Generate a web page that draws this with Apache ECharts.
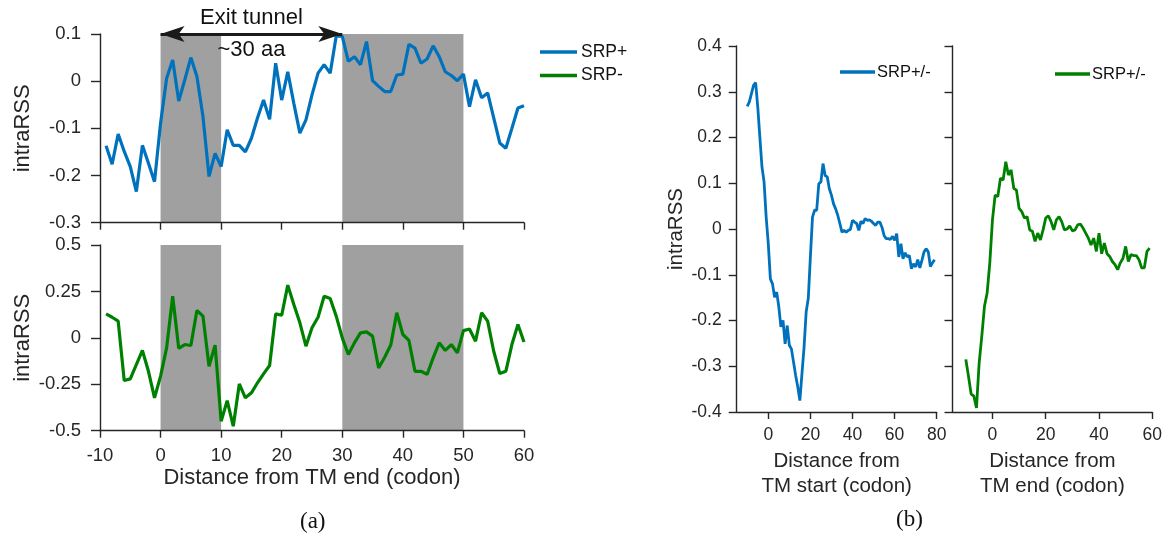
<!DOCTYPE html>
<html>
<head>
<meta charset="utf-8">
<script src="https://cdn.jsdelivr.net/npm/echarts@6/dist/echarts.min.js"></script>
<style>
html,body{margin:0;padding:0;background:#fff;}
#chart{width:1167px;height:540px;}
</style>
</head>
<body>
<div id="chart"></div>
<script>
// ---------- DATA ----------
// Panel (a): codon positions relative to TM end
const codonsA = [-9,-8,-7,-6,-5,-4,-3,-2,-1,0,1,2,3,4,5,6,7,8,9,10,11,12,13,14,15,16,17,18,19,20,21,22,23,24,25,26,27,28,29,30,31,32,33,34,35,36,37,38,39,40,41,42,43,44,45,46,47,48,49,50,51,52,53,54,55,56,57,58,59,60];
const srpPlus = [-0.137,-0.176,-0.112,-0.149,-0.181,-0.234,-0.136,-0.174,-0.213,-0.089,
  0.006,0.045,-0.042,0.003,0.050,0.010,-0.075,-0.202,-0.153,-0.181,
  -0.103,-0.136,-0.136,-0.150,-0.121,-0.078,-0.040,-0.081,0.038,-0.040,
  0.020,-0.047,-0.110,-0.082,-0.029,0.017,0.035,0.017,0.096,0.095,
  0.042,0.052,0.035,0.084,0.001,-0.011,-0.022,-0.022,0.013,0.015,
  0.078,0.070,0.038,0.047,0.075,0.052,0.020,0.012,0.001,0.015,
  -0.054,0.003,-0.035,-0.025,-0.078,-0.131,-0.142,-0.100,-0.057,-0.052];
const srpMinus = [0.129,0.111,0.090,-0.230,-0.221,-0.144,-0.068,-0.180,-0.323,-0.206,
  -0.054,0.224,-0.057,-0.036,-0.041,0.147,0.117,-0.153,-0.039,-0.449,
  -0.338,-0.476,-0.248,-0.323,-0.296,-0.242,-0.194,-0.149,0.129,0.122,
  0.284,0.180,0.081,-0.045,0.054,0.111,0.224,0.212,0.117,0.000,
  -0.090,-0.027,0.027,0.032,0.009,-0.162,-0.104,-0.039,0.135,0.018,
  -0.014,-0.180,-0.180,-0.197,-0.108,-0.027,-0.068,-0.036,-0.081,0.039,
  0.048,-0.018,0.135,0.090,-0.072,-0.192,-0.180,-0.036,0.072,-0.022];
// shaded regions (codon ranges)
const shadedBands = [[0,10],[30,50]];
// exit tunnel arrow span (codon) and height
const tunnelSpan = [0,30];
const tunnelLevel = 0.1;

// Panel (b) left: distance from TM start
const codonsStart = [-10,-9,-8,-7,-6,-5,-4,-3,-2,-1,0,1,2,3,4,5,6,7,8,9,10,11,12,13,14,15,16,17,18,19,20,21,22,23,24,25,26,27,28,29,30,31,32,33,34,35,36,37,38,39,40,41,42,43,44,45,46,47,48,49,50,51,52,53,54,55,56,57,58,59,60,61,62,63,64,65,66,67,68,69,70,71,72,73,74,75,76,77,78,79];
const srpStart = [0.268,0.278,0.296,0.314,0.320,0.267,0.201,0.136,0.103,0.026,
  -0.032,-0.109,-0.120,-0.149,-0.138,-0.170,-0.214,-0.200,-0.251,-0.211,
  -0.254,-0.262,-0.291,-0.320,-0.345,-0.375,-0.316,-0.258,-0.181,-0.152,
  -0.061,0.026,0.041,0.041,0.099,0.103,0.143,0.117,0.114,0.088,
  0.074,0.055,0.044,0.030,0.012,-0.007,-0.003,-0.007,-0.003,-0.001,
  0.019,0.015,0.012,-0.003,0.017,0.012,0.023,0.019,0.020,0.017,
  0.012,0.008,0.015,0.015,0.004,-0.014,-0.021,-0.021,-0.023,-0.016,
  -0.025,-0.010,-0.061,-0.032,-0.065,-0.052,-0.061,-0.058,-0.087,-0.076,
  -0.083,-0.067,-0.085,-0.068,-0.050,-0.043,-0.050,-0.082,-0.074,-0.067];

// Panel (b) right: distance from TM end
const codonsEnd = [-10,-9,-8,-7,-6,-5,-4,-3,-2,-1,0,1,2,3,4,5,6,7,8,9,10,11,12,13,14,15,16,17,18,19,20,21,22,23,24,25,26,27,28,29,30,31,32,33,34,35,36,37,38,39,40,41,42,43,44,45,46,47,48,49,50,51,52,53,54,55,56,57,58,59];
const srpEnd = [-0.285,-0.322,-0.361,-0.365,-0.391,-0.293,-0.234,-0.169,-0.140,-0.074,
  0.020,0.074,0.071,0.111,0.107,0.147,0.118,0.129,0.089,0.085,
  0.045,0.038,0.024,0.027,-0.002,-0.005,-0.027,-0.009,-0.024,-0.002,
  0.024,0.029,0.016,-0.002,0.020,0.027,0.016,-0.002,0.000,0.007,
  -0.004,-0.002,0.009,0.011,0.002,-0.009,-0.020,-0.035,-0.020,-0.049,
  -0.009,-0.054,-0.031,-0.054,-0.060,-0.071,-0.078,-0.089,-0.074,-0.064,
  -0.038,-0.071,-0.056,-0.058,-0.058,-0.067,-0.085,-0.085,-0.049,-0.042];

// tick values
const ticksStart_x = [0,20,40,60,80];
const ticksEnd_x = [0,20,40,60];

// ---------- STYLE ----------
const FONT = "'Liberation Sans', Arial, Helvetica, sans-serif";
const AX = '#262626';
const BLUE = '#0072BD';
const GREEN = '#008000';
const GRAY = '#a0a0a0';

function pairs(xs, ys){ return xs.map((x,i)=>[x, ys[i]]); }

function axisCommon(fs, margin, tickLen, showLabel){
  return {
    axisLine:{show:true, onZero:false, lineStyle:{color:AX, width:1.4}},
    axisTick:{show:true, inside:false, length:tickLen, lineStyle:{color:AX, width:1.4}},
    axisLabel:{show:showLabel, color:AX, fontSize:fs, fontFamily:FONT, margin:margin},
    splitLine:{show:false},
    z:5
  };
}

const bandAreas = shadedBands.map(b => [{xAxis:b[0]},{xAxis:b[1]}]);
const tunnelMid = (tunnelSpan[0] + tunnelSpan[1]) / 2;

const option = {
  animation:false,
  backgroundColor:'#ffffff',
  textStyle:{fontFamily:FONT},
  grid:[
    {left:100, top:34, width:424, height:188.7},
    {left:100, top:245, width:424, height:185.7},
    {left:736.7, top:46, width:200, height:366},
    {left:952.5, top:46, width:199.8, height:366}
  ],
  xAxis:[
    Object.assign(axisCommon(18.5,16,7,false), {type:'value', gridIndex:0, min:-10, max:60, interval:10}),
    Object.assign(axisCommon(18.5,16,7,true), {type:'value', gridIndex:1, min:-10, max:60, interval:10,
      name:'Distance from TM end (codon)', nameLocation:'middle', nameGap:36,
      nameTextStyle:{fontSize:22, color:AX, fontFamily:FONT}}),
    (function(){ const a = axisCommon(17.5,14,7,true);
      a.axisTick.customValues = ticksStart_x; a.axisLabel.customValues = ticksStart_x;
      return Object.assign(a, {type:'value', gridIndex:2, min:-15, max:80,
        name:'Distance from\nTM start (codon)', nameLocation:'middle', nameGap:33,
        nameTextStyle:{fontSize:20.5, lineHeight:25, color:AX, fontFamily:FONT}}); })(),
    (function(){ const a = axisCommon(17.5,14,7,true);
      a.axisTick.customValues = ticksEnd_x; a.axisLabel.customValues = ticksEnd_x;
      return Object.assign(a, {type:'value', gridIndex:3, min:-15, max:60,
        name:'Distance from\nTM end (codon)', nameLocation:'middle', nameGap:33,
        nameTextStyle:{fontSize:20.5, lineHeight:25, color:AX, fontFamily:FONT}}); })()
  ],
  yAxis:[
    Object.assign(axisCommon(18.5,19,9,true), {type:'value', gridIndex:0, min:-0.3, max:0.1, interval:0.1,
      name:'intraRSS', nameLocation:'middle', nameGap:66,
      nameTextStyle:{fontSize:22, color:AX, fontFamily:FONT}}),
    Object.assign(axisCommon(18.5,19,9,true), {type:'value', gridIndex:1, min:-0.5, max:0.5, interval:0.25,
      name:'intraRSS', nameLocation:'middle', nameGap:66,
      nameTextStyle:{fontSize:22, color:AX, fontFamily:FONT}}),
    Object.assign(axisCommon(17.5,15,8,true), {type:'value', gridIndex:2, min:-0.4, max:0.4, interval:0.1,
      name:'intraRSS', nameLocation:'middle', nameGap:50,
      nameTextStyle:{fontSize:20.5, color:AX, fontFamily:FONT}}),
    Object.assign(axisCommon(17.5,15,8,false), {type:'value', gridIndex:3, min:-0.4, max:0.4, interval:0.1})
  ],
  legend:[
    {data:['SRP+','SRP-'], orient:'vertical', left:535, top:37, icon:'rect',
      itemWidth:37, itemHeight:3.5, itemGap:3.5, selectedMode:false,
      textStyle:{fontSize:17.5, lineHeight:20, color:'#111', fontFamily:FONT, padding:[0,0,0,-1]}},
    {data:['SRP+/- start'], orient:'vertical', left:835, top:57, icon:'rect',
      itemWidth:35, itemHeight:3.5, selectedMode:false, formatter:function(){return 'SRP+/-';},
      textStyle:{fontSize:16.5, lineHeight:20, color:'#111', fontFamily:FONT, padding:[0,0,0,-3]}},
    {data:['SRP+/- end'], orient:'vertical', left:1050, top:59, icon:'rect',
      itemWidth:35, itemHeight:3.5, selectedMode:false, formatter:function(){return 'SRP+/-';},
      textStyle:{fontSize:16.5, lineHeight:20, color:'#111', fontFamily:FONT, padding:[0,0,0,-3]}}
  ],
  series:[
    {name:'SRP+', type:'line', xAxisIndex:0, yAxisIndex:0, data:pairs(codonsA, srpPlus),
      symbol:'none', color:BLUE, lineStyle:{color:BLUE, width:3.2}, z:3, clip:false,
      markArea:{silent:true, itemStyle:{color:GRAY, opacity:1}, data:bandAreas},
      markLine:{silent:true, symbol:['arrow','arrow'], symbolSize:[12,24],
        lineStyle:{color:'#1a1a1a', width:3, type:'solid'}, label:{show:false},
        data:[[{coord:[tunnelSpan[0],tunnelLevel]},{coord:[tunnelSpan[1],tunnelLevel]}]]
      },
      markPoint:{silent:true, symbol:'circle', symbolSize:1, itemStyle:{color:'rgba(0,0,0,0)'},
        data:[
          {coord:[tunnelMid,tunnelLevel], label:{show:true, position:'top', distance:5, formatter:'Exit tunnel', fontSize:22, color:'#111', fontFamily:FONT}},
          {coord:[tunnelMid,tunnelLevel], label:{show:true, position:'bottom', distance:4, formatter:'~30 aa', fontSize:22, color:'#111', fontFamily:FONT}}
        ]
      }},
    {name:'SRP-', type:'line', xAxisIndex:1, yAxisIndex:1, data:pairs(codonsA, srpMinus),
      symbol:'none', color:GREEN, lineStyle:{color:GREEN, width:3.2}, z:3,
      markArea:{silent:true, itemStyle:{color:GRAY, opacity:1}, data:bandAreas}},
    {name:'SRP+/- start', type:'line', xAxisIndex:2, yAxisIndex:2, data:pairs(codonsStart, srpStart),
      symbol:'none', color:BLUE, lineStyle:{color:BLUE, width:2.8}, z:3},
    {name:'SRP+/- end', type:'line', xAxisIndex:3, yAxisIndex:3, data:pairs(codonsEnd, srpEnd),
      symbol:'none', color:GREEN, lineStyle:{color:GREEN, width:2.8}, z:3}
  ],
  graphic:[
    {type:'text', left:300, top:510, style:{text:'(a)', fontSize:23, fill:'#111', fontFamily:"'Liberation Serif', 'Times New Roman', serif"}},
    {type:'text', left:896, top:508, style:{text:'(b)', fontSize:23, fill:'#111', fontFamily:"'Liberation Serif', 'Times New Roman', serif"}}
  ]
};

const chart = echarts.init(document.getElementById('chart'), null, {renderer:'canvas'});
chart.setOption(option);
</script>
</body>
</html>
